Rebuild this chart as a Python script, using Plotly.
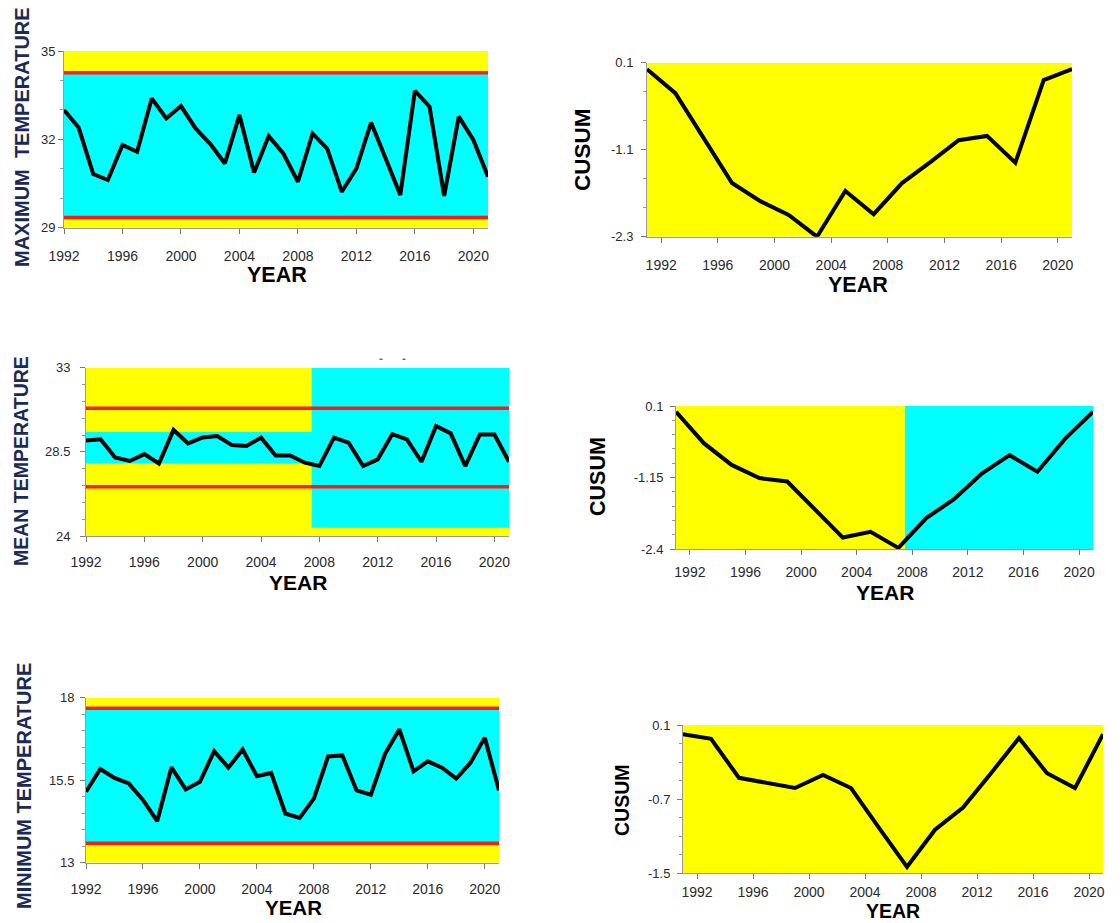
import plotly.graph_objects as go

# page body adds an 8px margin, so the figure canvas starts at (8, 8)
OFF = 8
W, H = 1120 - OFF, 923 - OFF

years = list(range(1992, 2022))
cusum_years = list(range(1991, 2022, 2))

max_temp = [33.0, 32.4, 30.82, 30.62, 31.81, 31.58, 33.39, 32.71, 33.13, 32.37,
            31.85, 31.18, 32.83, 30.87, 32.11, 31.52, 30.56, 32.2, 31.69, 30.22,
            31.01, 32.57, 31.35, 30.11, 33.65, 33.11, 30.08, 32.77, 31.98, 30.73]
mean_temp = [29.1, 29.17, 28.2, 28.01, 28.38, 27.88, 29.67, 28.95, 29.27, 29.35,
             28.86, 28.81, 29.26, 28.31, 28.31, 27.92, 27.74, 29.26, 28.99, 27.74,
             28.1, 29.45, 29.17, 27.97, 29.88, 29.49, 27.74, 29.43, 29.43, 27.97]
min_temp = [15.15, 15.84, 15.57, 15.4, 14.9, 14.26, 15.89, 15.22, 15.45, 16.38,
            15.88, 16.43, 15.62, 15.72, 14.49, 14.36, 14.94, 16.22, 16.25, 15.19,
            15.06, 16.3, 17.04, 15.77, 16.07, 15.88, 15.55, 16.03, 16.79, 15.19]

cusum_max = [0.01, -0.32, -0.94, -1.56, -1.81, -2.0, -2.3, -1.67, -1.99, -1.56,
             -1.27, -0.97, -0.91, -1.28, -0.14, 0.01]
cusum_mean = [0.0, -0.55, -0.93, -1.16, -1.22, -1.72, -2.2, -2.1, -2.38, -1.86,
              -1.53, -1.08, -0.76, -1.05, -0.47, 0.0]
cusum_min = [0.0, -0.05, -0.47, -0.52, -0.58, -0.44, -0.58, -1.01, -1.43, -1.03,
             -0.79, -0.42, -0.04, -0.42, -0.58, 0.0]

# control limits
max_limits = [34.26, 29.35]
mean_limits = [30.83, 26.64]
min_limits = [17.68, 13.59]
change_year = 2007.47
mean_band_before = [27.88, 29.58]
mean_band_after = [24.44, 33.0]

year_ticks = [1992, 1996, 2000, 2004, 2008, 2012, 2016, 2020]

YELLOW = "#ffff00"
CYAN = "#00ffff"
RED = "#ff1a1a"
NAVY = "#1b2a55"
FONT = "Liberation Sans, Arial, sans-serif"


def px_x(p):
    return (p - OFF) / W


def px_y(p):
    return 1 - (p - OFF) / H


panels = {
    1: dict(x=(64, 488), y=(51, 227.7), xr=[1992, 2021], yr=[29, 35],
            yt=[29, 32, 35], ytt=["29", "32", "35"], ydm=1, so=25, yso=7),
    2: dict(x=(647, 1072), y=(62.7, 236.7), xr=[1991, 2021], yr=[-2.3, 0.1],
            yt=[-2.3, -1.1, 0.1], ytt=["-2.3", "-1.1", "0.1"], ydm=0.4, so=25, yso=12),
    3: dict(x=(86, 509), y=(367.7, 536), xr=[1992, 2021], yr=[24, 33],
            yt=[24, 28.5, 33], ytt=["24", "28.5", "33"], ydm=0.9, so=23, yso=14),
    4: dict(x=(676, 1093), y=(406, 549), xr=[1991, 2021], yr=[-2.4, 0.1],
            yt=[-2.4, -1.15, 0.1], ytt=["-2.4", "-1.15", "0.1"], ydm=0.25, so=20, yso=11),
    5: dict(x=(86, 499), y=(697.7, 862.7), xr=[1992, 2021], yr=[13, 18],
            yt=[13, 15.5, 18], ytt=["13", "15.5", "18"], ydm=0.5, so=23, yso=10),
    6: dict(x=(683, 1103), y=(725, 873.3), xr=[1991, 2021], yr=[-1.5, 0.1],
            yt=[-1.5, -0.7, 0.1], ytt=["-1.5", "-0.7", "0.1"], ydm=0.2, so=16, yso=11),
}

fig = go.Figure()
layout = dict(width=W, height=H, margin=dict(l=0, r=0, t=0, b=0, autoexpand=False),
              paper_bgcolor="white", plot_bgcolor="rgba(0,0,0,0)",
              showlegend=False, font=dict(family=FONT, color="#222"))

for i, p in panels.items():
    sx = "" if i == 1 else str(i)
    layout["xaxis" + sx] = dict(
        domain=[px_x(p["x"][0]), px_x(p["x"][1])], range=p["xr"],
        anchor="y" + sx, tickvals=year_ticks, ticks="outside", ticklen=5,
        tickcolor="#777", showline=True, linecolor="#999", linewidth=1,
        showgrid=False, zeroline=False, tickfont=dict(size=14, color="#2a2a2a"),
        ticklabelstandoff=p["so"] - 15, fixedrange=True, automargin=False)
    layout["yaxis" + sx] = dict(
        domain=[px_y(p["y"][1]), px_y(p["y"][0])], range=p["yr"],
        anchor="x" + sx, tickvals=p["yt"], ticktext=p["ytt"], ticks="outside",
        ticklen=5, tickcolor="#777", showline=True, linecolor="#999", linewidth=1,
        showgrid=False, zeroline=False, tickfont=dict(size=13, color="#2a2a2a"),
        ticklabelstandoff=max(p["yso"] - 7, 0),
        minor=dict(dtick=p["ydm"], tick0=p["yr"][0], ticks="outside", ticklen=3, tickcolor="#999"),
        fixedrange=True, automargin=False)

shapes = []


def rect(ax, x0, x1, y0, y1, color):
    sx = "" if ax == 1 else str(ax)
    shapes.append(dict(type="rect", xref="x" + sx, yref="y" + sx, x0=x0, x1=x1,
                       y0=y0, y1=y1, fillcolor=color, line=dict(width=0), layer="below"))


def hline(ax, y, x0, x1):
    sx = "" if ax == 1 else str(ax)
    shapes.append(dict(type="line", xref="x" + sx, yref="y" + sx, x0=x0, x1=x1,
                       y0=y, y1=y, line=dict(color=RED, width=3.5), layer="below"))


# Panel 1
rect(1, 1992, 2021, 29, 35, YELLOW)
rect(1, 1992, 2021, max_limits[1], max_limits[0], CYAN)
for v in max_limits:
    hline(1, v, 1992, 2021)
# Panel 2
rect(2, 1991, 2021, -2.3, 0.1, YELLOW)
# Panel 3
rect(3, 1992, 2021, 24, 33, YELLOW)
rect(3, 1992, change_year, mean_band_before[0], mean_band_before[1], CYAN)
rect(3, change_year, 2021, mean_band_after[0], mean_band_after[1], CYAN)
for v in mean_limits:
    hline(3, v, 1992, 2021)
# Panel 4
rect(4, 1991, change_year, -2.4, 0.1, YELLOW)
rect(4, change_year, 2021, -2.4, 0.1, CYAN)
# Panel 5
rect(5, 1992, 2021, 13, 18, YELLOW)
rect(5, 1992, 2021, min_limits[1], min_limits[0], CYAN)
for v in min_limits:
    hline(5, v, 1992, 2021)
# Panel 6
rect(6, 1991, 2021, -1.5, 0.1, YELLOW)

# tiny blue specks above mean panel
for cx in (381, 404):
    shapes.append(dict(type="rect", xref="paper", yref="paper",
                       x0=px_x(cx - 1.5), x1=px_x(cx + 1.5), y0=px_y(360), y1=px_y(358.5),
                       fillcolor="#4a5cff", line=dict(width=0)))

layout["shapes"] = shapes

series = [
    (1, years, max_temp), (2, cusum_years, cusum_max),
    (3, years, mean_temp), (4, cusum_years, cusum_mean),
    (5, years, min_temp), (6, cusum_years, cusum_min),
]
for ax, xs, ys in series:
    sx = "" if ax == 1 else str(ax)
    fig.add_trace(go.Scatter(x=xs, y=ys, mode="lines", xaxis="x" + sx, yaxis="y" + sx,
                             line=dict(color="black", width=4), cliponaxis=False,
                             hoverinfo="skip"))

annotations = []


def text(x, y, s, size, angle=0, color="black"):
    annotations.append(dict(x=px_x(x), y=px_y(y), xref="paper", yref="paper", text=s,
                            showarrow=False, textangle=angle, xanchor="center",
                            yanchor="middle", borderpad=0,
                            font=dict(family=FONT, size=size, color=color)))


# YEAR labels
text(277, 275, "<b>YEAR</b>", 21.5)
text(858, 285, "<b>YEAR</b>", 21.5)
text(298, 582, "<b>YEAR</b>", 21)
text(885, 592, "<b>YEAR</b>", 21)
text(293, 907, "<b>YEAR</b>", 20.5)
text(893, 911, "<b>YEAR</b>", 19.5)
# Y titles
text(22, 137, "<b>MAXIMUM  TEMPERATURE</b>", 20, -90, NAVY)
text(21, 461, "<b>MEAN TEMPERATURE</b>", 19.5, -90, NAVY)
text(24, 786, "<b>MINIMUM TEMPERATURE</b>", 20, -90, NAVY)
text(582, 150, "<b>CUSUM</b>", 22.5, -90)
text(598, 477, "<b>CUSUM</b>", 21.5, -90)
text(622, 800, "<b>CUSUM</b>", 19.5, -90)

layout["annotations"] = annotations
fig.update_layout(**layout)
fig.write_html("out.html")
